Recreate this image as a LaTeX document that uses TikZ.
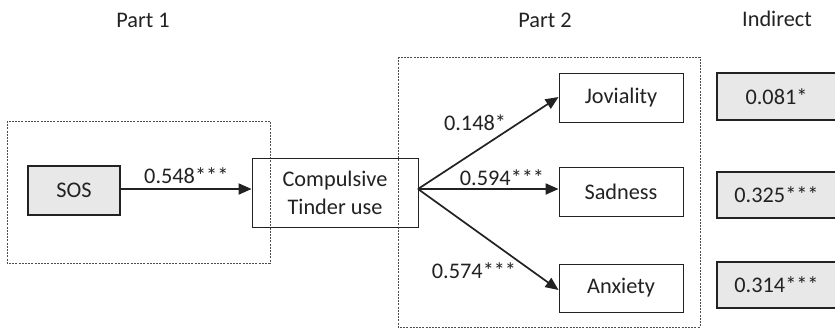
\documentclass[tikz,border=0pt]{standalone}
\usepackage{fontspec}
\setmainfont{Carlito}
\usetikzlibrary{arrows.meta}
\definecolor{boxgray}{HTML}{E8E8E8}
\definecolor{ink}{HTML}{222222}
\begin{document}
\begin{tikzpicture}[x=1pt,y=-1pt,
  every node/.style={font=\fontsize{22.3}{28}\selectfont, text=ink},
  plainbox/.style={draw=ink, line width=0.9pt, fill=white},
  openbox/.style={draw=ink, line width=0.9pt},
  graybox/.style={draw=ink, line width=2pt, fill=boxgray},
  groupbox/.style={draw=ink!80, line width=0.8pt, dash pattern=on 2pt off 1.2pt},
  pathar/.style={draw=ink, line width=2pt, -{Triangle[length=13pt,width=11pt]}},
  fanar/.style={pathar, line width=1.7pt},
  lbl/.style={inner sep=0pt}]
\useasboundingbox (0,0) rectangle (835,330);
\clip (0,0) rectangle (835,330);
\fill[white] (0,0) rectangle (835,330);
% group boxes
\draw[groupbox] (7,121) rectangle (270,263);
\draw[groupbox] (398,57) rectangle (700,327);
% nodes
\node[graybox, minimum width=92pt, minimum height=49pt] (sos) at (74,190) {SOS};
\node[openbox, minimum width=166pt, minimum height=69pt, align=center] (ctu) at (335,192.5) {Compulsive\\Tinder use};
\node[plainbox, minimum width=124pt, minimum height=49pt] (jov) at (621,97.5) {Joviality};
\node[plainbox, minimum width=124pt, minimum height=49pt] (sad) at (621,191.5) {Sadness};
\node[plainbox, minimum width=124pt, minimum height=48pt] (anx) at (621,288) {Anxiety};
\node[graybox, minimum width=119pt, minimum height=47pt] (ij) at (776.5,96.5) {0.081*};
\node[graybox, minimum width=119pt, minimum height=46pt] (is) at (776.5,195) {0.325***};
\node[graybox, minimum width=119pt, minimum height=46pt] (ia) at (776.5,285) {0.314***};
% titles
\node[lbl] (t1) at (143,20) {Part 1};
\node[lbl] (t2) at (545,20) {Part 2};
\node[lbl] (t3) at (777,19) {Indirect};
% connectors
\coordinate (fan) at (418,189);
\draw[pathar] (sos.east |- 0,189) -- (ctu.west |- 0,189) node[midway, above=4pt, lbl] (l1) {0.548***};
\draw[fanar] (fan) -- (jov.west |- 0,97);
\draw[pathar] (fan) -- (sad.west |- 0,189);
\draw[fanar] (fan) -- (anx.west |- 0,290);
\node[lbl] (l2) at (475,123) {0.148*};
\node[lbl] (l3) at (502,178) {0.594***};
\node[lbl] (l4) at (474,271) {0.574***};
\end{tikzpicture}
\end{document}
